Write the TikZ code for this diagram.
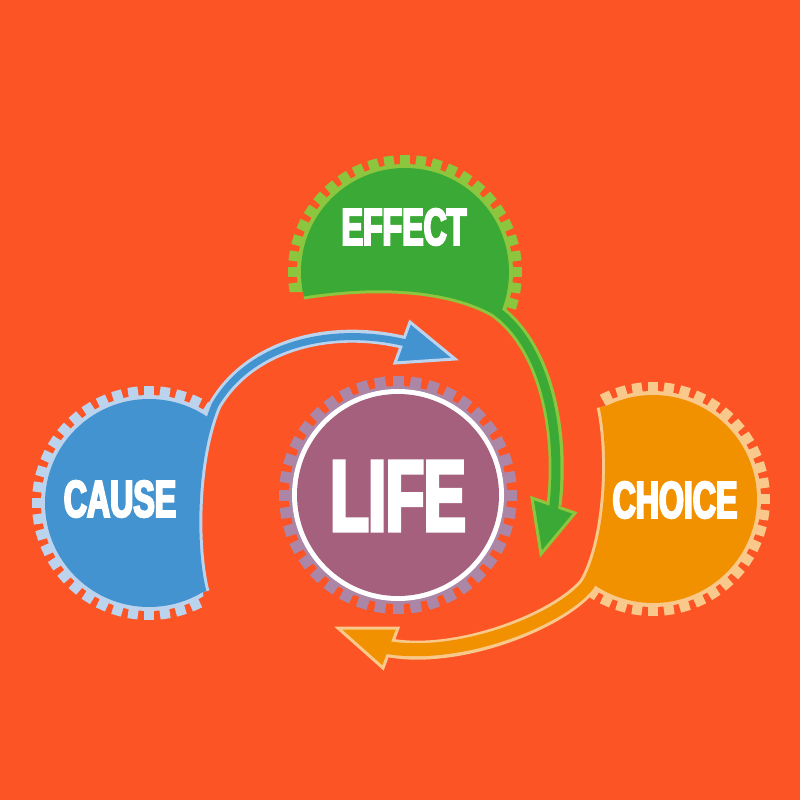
\documentclass[tikz,border=0pt]{standalone}
\usepackage{fontspec}
\newfontfamily\tagfont{Liberation Sans}[FakeStretch=0.62,FakeBold=4]
\usetikzlibrary{calc}
\definecolor{bg}{HTML}{FC5424}
\definecolor{pblue}{HTML}{4293D0}
\definecolor{pblueL}{HTML}{BCD3EE}
\definecolor{pgreen}{HTML}{3AA935}
\definecolor{pgreenL}{HTML}{8CC63E}
\definecolor{porange}{HTML}{F29100}
\definecolor{porangeL}{HTML}{F8C98A}
\definecolor{ppurple}{HTML}{A4607C}
\definecolor{ppurpleL}{HTML}{AC86A6}
\tikzset{
  word/.style    = {text=white, inner sep=0pt,
                    font=\tagfont\bfseries\fontsize{36.8pt}{40pt}\selectfont},
  bigword/.style = {word, font=\tagfont\bfseries\fontsize{71.5pt}{75pt}\selectfont},
  band/.style    = {line width=#1, line cap=butt},
  head/.style    = {fill=#1, line width=0.075cm, line join=miter},
}
% cog: centre, root radius, tip radius, teeth, half tooth width, colour
\newcommand{\cog}[6]{%
  \fill[#6] (#1) circle (#2);
  \foreach \k in {1,...,#4}{
    \fill[#6, shift={(#1)}, rotate=\k*360/#4]
      (#2-2,-#5) -- (#3,-#5) -- (#3,#5) -- (#2-2,#5) -- cycle;
  }%
}

\begin{document}
\begin{tikzpicture}[x=0.025cm, y=-0.025cm]
\fill[bg] (0,0) rectangle (800,800);
\coordinate (E) at (405,272);
\coordinate (C) at (149,503);
\coordinate (H) at (653,499);
\coordinate (L) at (398,495);
% effect
\def\effband{(303,292) .. controls (380,280) and (450,285) .. (495,310)
  .. controls (545,345) and (563,430) .. (554,505)}
\def\effcut{(303,292) .. controls (380,280) and (450,285) .. (495,310)
  -- (640,310) -- (640,120) -- (270,120) -- (270,292) -- cycle}
\begin{scope}
  \clip \effcut;
  \cog{E}{108}{117}{44}{5}{pgreenL}
\end{scope}
\draw[band=0.375cm, pgreenL] \effband;
\begin{scope}
  \clip \effcut;
  \fill[pgreen] (E) circle (104);
\end{scope}
\filldraw[head=pgreen, draw=pgreenL] (532,498) -- (541,554) -- (575,513) -- cycle;
\draw[band=0.225cm, pgreen, shorten >=-0.1cm] \effband;
\node[word] (effect) at (404,227) {EFFECT};
% cause
\def\cauband{(203,592) .. controls (192,550) and (192,460) .. (215,405)
  .. controls (250,345) and (330,325) .. (402,342)}
\def\caucut{(203,592) .. controls (192,550) and (192,460) .. (215,405)
  -- (215,370) -- (20,370) -- (20,640) -- (203,640) -- cycle}
\begin{scope}
  \clip \caucut;
  \cog{C}{108}{117}{44}{5}{pblueL}
\end{scope}
\draw[band=0.325cm, pblueL] \cauband;
\begin{scope}
  \clip \caucut;
  \fill[pblue] (C) circle (104);
\end{scope}
\filldraw[head=pblue, draw=pblueL] (410,322) -- (455,359) -- (395,363) -- cycle;
\draw[band=0.175cm, pblue, shorten >=-0.1cm] \cauband;
\node[word] (cause) at (120,499) {CAUSE};
% choice
\def\choband{(606,406) .. controls (616,450) and (614,540) .. (588,585)
  .. controls (560,620) and (460,660) .. (390,648)}
\def\chocut{(606,406) .. controls (616,450) and (614,540) .. (588,585)
  -- (588,640) -- (790,640) -- (790,360) -- (580,360) -- cycle}
\begin{scope}
  \clip \chocut;
  \cog{H}{108}{117}{44}{5}{porangeL}
\end{scope}
\draw[band=0.475cm, porangeL] \choband;
\begin{scope}
  \clip \chocut;
  \fill[porange] (H) circle (104);
\end{scope}
\filldraw[head=porange, draw=porangeL] (398,628) -- (338,628) -- (383,668) -- cycle;
\draw[band=0.325cm, porange, shorten >=-0.1cm] \choband;
\node[word] (choice) at (675,500) {CHOICE};
% life
\cog{L}{109}{119}{40}{5.5}{ppurpleL}
\fill[white] (L) circle (106);
\fill[ppurple] (L) circle (101);
\node[bigword] (life) at (398,496) {LIFE};
\end{tikzpicture}
\end{document}
